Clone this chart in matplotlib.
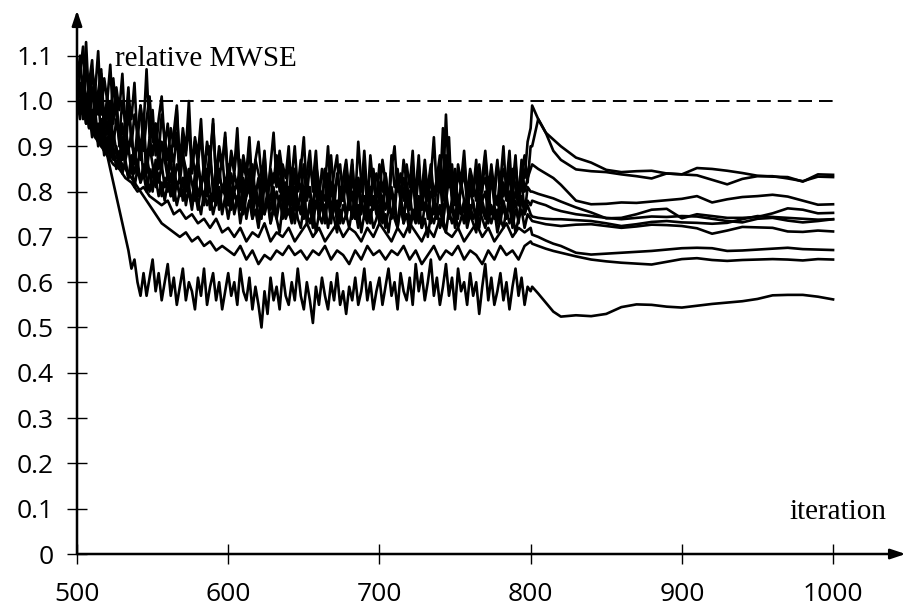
import numpy as np
import matplotlib.pyplot as plt

# iterations: noisy part every 2 (every 4 for the two calmer runs), smooth part after 800
iters_fine = np.arange(500, 801, 2)
iters_coarse = np.arange(500, 801, 4)
iters_smooth = [801, 805, 810, 815, 820, 830, 840, 850, 860, 870, 880, 890,
                900, 910, 920, 930, 940, 950, 960, 970, 980, 990, 1000]

# relative MWSE per run
run1_noisy = [1.04, 1.10, 1.01, 1.13, 0.99, 1.07, 1.02, 1.11, 0.97, 1.05,
              1.00, 1.08, 0.95, 1.03, 0.98, 1.06, 0.93, 1.01, 0.96, 1.04,
              0.91, 0.99, 0.94, 1.07, 0.92, 0.98, 0.88, 0.96, 1.01, 0.90,
              0.95, 0.87, 0.93, 0.99, 0.86, 0.94, 0.89, 1.00, 0.85, 0.92,
              0.88, 0.96, 0.84, 0.91, 0.87, 0.95, 0.83, 0.90, 0.86, 0.93,
              0.82, 0.89, 0.85, 0.94, 0.81, 0.88, 0.84, 0.92, 0.80, 0.87,
              0.91, 0.83, 0.88, 0.79, 0.86, 0.93, 0.82, 0.89, 0.84, 0.78,
              0.87, 0.83, 0.90, 0.80, 0.85, 0.92, 0.79, 0.86, 0.82, 0.89,
              0.78, 0.85, 0.81, 0.90, 0.79, 0.84, 0.88, 0.77, 0.83, 0.87,
              0.80, 0.86, 0.78, 0.91, 0.82, 0.85, 0.77, 0.88, 0.81, 0.84,
              0.79, 0.87, 0.82, 0.76, 0.85, 0.90, 0.80, 0.84, 0.78, 0.86,
              0.81, 0.89, 0.77, 0.84, 0.80, 0.87, 0.79, 0.83, 0.92, 0.80,
              0.85, 0.78, 0.88, 0.81, 0.84, 0.77, 0.86, 0.82, 0.89, 0.79,
              0.84, 0.80, 0.87, 0.76, 0.83, 0.89, 0.81, 0.85, 0.78, 0.86,
              0.82, 0.90, 0.79, 0.84, 0.81, 0.88, 0.77, 0.86, 0.83, 0.91,
              0.94]
run1_smooth = [0.99, 0.96, 0.93, 0.915, 0.90, 0.875, 0.864, 0.848, 0.843, 0.845, 0.846, 0.84,
               0.838, 0.852, 0.85, 0.846, 0.841, 0.835, 0.833, 0.832, 0.822, 0.838, 0.837]

run2_noisy = [1.00, 1.06, 1.12, 0.98, 1.04, 1.09, 0.96, 1.02, 1.07, 0.95,
              1.01, 0.94, 1.05, 0.97, 0.92, 1.00, 0.95, 1.03, 0.90, 0.97,
              0.93, 0.99, 0.89, 0.96, 1.01, 0.91, 0.95, 0.88, 0.97, 0.92,
              0.87, 0.94, 0.90, 0.98, 0.85, 0.92, 0.88, 0.95, 0.84, 0.91,
              0.86, 0.93, 0.83, 0.90, 0.87, 0.96, 0.82, 0.89, 0.85, 0.92,
              0.81, 0.88, 0.84, 0.91, 0.80, 0.86, 0.83, 0.90, 0.79, 0.87,
              0.84, 0.81, 0.89, 0.78, 0.85, 0.82, 0.88, 0.80, 0.86, 0.83,
              0.90, 0.79, 0.85, 0.81, 0.87, 0.78, 0.84, 0.89, 0.80, 0.86,
              0.82, 0.77, 0.85, 0.80, 0.88, 0.79, 0.83, 0.86, 0.78, 0.84,
              0.81, 0.87, 0.77, 0.83, 0.80, 0.89, 0.79, 0.85, 0.82, 0.78,
              0.86, 0.80, 0.84, 0.77, 0.88, 0.81, 0.83, 0.79, 0.87, 0.82,
              0.78, 0.85, 0.80, 0.88, 0.76, 0.84, 0.81, 0.86, 0.79, 0.83,
              0.88, 0.80, 0.97, 0.82, 0.86, 0.78, 0.84, 0.81, 0.87, 0.79,
              0.85, 0.82, 0.78, 0.86, 0.80, 0.88, 0.77, 0.84, 0.81, 0.87,
              0.79, 0.85, 0.82, 0.89, 0.78, 0.86, 0.80, 0.84, 0.88, 0.82,
              0.90]
run2_smooth = [0.90, 0.96, 0.93, 0.89, 0.87, 0.849, 0.845, 0.843, 0.838, 0.834, 0.829, 0.84,
               0.838, 0.836, 0.826, 0.816, 0.828, 0.834, 0.834, 0.829, 0.823, 0.833, 0.832]

run3_noisy = [0.98, 1.04, 0.96, 1.09, 1.00, 0.94, 1.03, 0.97, 1.06, 0.93,
              0.99, 0.91, 0.97, 1.02, 0.90, 0.95, 0.88, 0.98, 0.92, 0.87,
              0.94, 0.89, 0.96, 0.86, 0.92, 0.88, 0.95, 0.85, 0.91, 0.87,
              0.83, 0.90, 0.86, 0.93, 0.82, 0.88, 0.85, 0.80, 0.89, 0.84,
              0.87, 0.81, 0.86, 0.83, 0.90, 0.79, 0.85, 0.82, 0.88, 0.80,
              0.86, 0.78, 0.84, 0.81, 0.87, 0.77, 0.83, 0.80, 0.86, 0.79,
              0.83, 0.76, 0.85, 0.80, 0.78, 0.84, 0.81, 0.87, 0.77, 0.82,
              0.79, 0.85, 0.76, 0.83, 0.80, 0.86, 0.78, 0.81, 0.75, 0.84,
              0.80, 0.77, 0.85, 0.79, 0.82, 0.76, 0.84, 0.80, 0.78, 0.86,
              0.77, 0.83, 0.79, 0.81, 0.75, 0.84, 0.80, 0.78, 0.85, 0.79,
              0.82, 0.76, 0.84, 0.79, 0.81, 0.77, 0.85, 0.78, 0.83, 0.80,
              0.76, 0.82, 0.79, 0.86, 0.77, 0.81, 0.78, 0.84, 0.75, 0.82,
              0.80, 0.94, 0.78, 0.83, 0.79, 0.85, 0.77, 0.81, 0.84, 0.78,
              0.82, 0.79, 0.85, 0.76, 0.81, 0.83, 0.78, 0.86, 0.80, 0.77,
              0.84, 0.79, 0.82, 0.76, 0.85, 0.81, 0.78, 0.87, 0.80, 0.83,
              0.85]
run3_smooth = [0.86, 0.85, 0.84, 0.83, 0.815, 0.78, 0.772, 0.773, 0.776, 0.775, 0.778, 0.781,
               0.784, 0.79, 0.776, 0.783, 0.788, 0.79, 0.793, 0.789, 0.78, 0.771, 0.772]

run4_noisy = [1.01, 0.96, 1.05, 0.99, 0.94, 1.03, 0.97, 1.01, 0.92, 0.98,
              0.93, 1.00, 0.90, 0.96, 0.91, 0.87, 0.95, 0.89, 0.93, 0.86,
              0.91, 0.87, 0.93, 0.84, 0.90, 0.86, 0.82, 0.89, 0.85, 0.91,
              0.83, 0.87, 0.81, 0.86, 0.84, 0.90, 0.80, 0.85, 0.82, 0.78,
              0.86, 0.81, 0.84, 0.79, 0.87, 0.82, 0.78, 0.85, 0.80, 0.83,
              0.77, 0.84, 0.80, 0.82, 0.76, 0.83, 0.79, 0.85, 0.77, 0.81,
              0.78, 0.74, 0.82, 0.79, 0.84, 0.76, 0.80, 0.77, 0.83, 0.75,
              0.81, 0.78, 0.85, 0.76, 0.80, 0.74, 0.82, 0.79, 0.77, 0.83,
              0.75, 0.80, 0.78, 0.84, 0.76, 0.79, 0.73, 0.81, 0.78, 0.82,
              0.76, 0.80, 0.74, 0.83, 0.78, 0.75, 0.81, 0.77, 0.84, 0.76,
              0.79, 0.74, 0.82, 0.77, 0.80, 0.75, 0.83, 0.78, 0.73, 0.81,
              0.77, 0.84, 0.75, 0.79, 0.76, 0.82, 0.74, 0.80, 0.78, 0.76,
              0.83, 0.75, 0.79, 0.92, 0.77, 0.80, 0.74, 0.82, 0.78, 0.75,
              0.81, 0.77, 0.74, 0.83, 0.78, 0.80, 0.75, 0.84, 0.77, 0.79,
              0.74, 0.82, 0.78, 0.85, 0.76, 0.80, 0.77, 0.83, 0.75, 0.81,
              0.80]
run4_smooth = [0.80, 0.795, 0.79, 0.785, 0.778, 0.765, 0.754, 0.741, 0.742, 0.75, 0.76, 0.762,
               0.741, 0.75, 0.746, 0.742, 0.742, 0.744, 0.752, 0.763, 0.76, 0.752, 0.753]

run5_noisy = [1.03, 0.98, 1.02, 0.95, 1.00, 0.94, 0.98, 0.91, 0.96, 0.90,
              0.95, 0.88, 0.93, 0.89, 0.86, 0.92, 0.87, 0.90, 0.84, 0.89,
              0.85, 0.91, 0.83, 0.88, 0.84, 0.80, 0.87, 0.82, 0.86, 0.81,
              0.84, 0.79, 0.86, 0.81, 0.83, 0.78, 0.85, 0.80, 0.77, 0.84,
              0.79, 0.82, 0.77, 0.85, 0.80, 0.78, 0.83, 0.76, 0.81, 0.79,
              0.82, 0.76, 0.80, 0.77, 0.83, 0.75, 0.79, 0.81, 0.74, 0.80,
              0.77, 0.82, 0.75, 0.79, 0.76, 0.81, 0.74, 0.78, 0.80, 0.75,
              0.79, 0.74, 0.81, 0.77, 0.75, 0.80, 0.73, 0.78, 0.76, 0.82,
              0.74, 0.78, 0.76, 0.80, 0.73, 0.79, 0.75, 0.77, 0.81, 0.74,
              0.78, 0.75, 0.80, 0.73, 0.77, 0.79, 0.74, 0.81, 0.76, 0.78,
              0.73, 0.79, 0.76, 0.80, 0.74, 0.77, 0.72, 0.79, 0.75, 0.78,
              0.80, 0.74, 0.77, 0.73, 0.79, 0.76, 0.81, 0.74, 0.78, 0.75,
              0.77, 0.73, 0.80, 0.75, 0.78, 0.74, 0.79, 0.76, 0.73, 0.80,
              0.75, 0.78, 0.73, 0.79, 0.76, 0.74, 0.80, 0.75, 0.77, 0.73,
              0.79, 0.76, 0.74, 0.80, 0.75, 0.78, 0.73, 0.79, 0.76, 0.78,
              0.77]
run5_smooth = [0.78, 0.775, 0.77, 0.762, 0.757, 0.75, 0.746, 0.742, 0.739, 0.742, 0.745, 0.744,
               0.746, 0.745, 0.74, 0.735, 0.732, 0.74, 0.742, 0.736, 0.732, 0.735, 0.739]

run6_noisy = [0.99, 1.03, 0.97, 1.00, 0.94, 0.98, 0.92, 0.95, 0.90, 0.93,
              0.88, 0.92, 0.87, 0.90, 0.85, 0.89, 0.86, 0.83, 0.88, 0.84,
              0.87, 0.82, 0.86, 0.83, 0.80, 0.85, 0.81, 0.84, 0.79, 0.83,
              0.80, 0.84, 0.78, 0.82, 0.79, 0.83, 0.77, 0.81, 0.78, 0.80,
              0.76, 0.81, 0.78, 0.82, 0.76, 0.79, 0.77, 0.80, 0.75, 0.79,
              0.77, 0.80, 0.75, 0.78, 0.76, 0.81, 0.74, 0.78, 0.76, 0.79,
              0.74, 0.78, 0.76, 0.80, 0.73, 0.77, 0.75, 0.79, 0.74, 0.77,
              0.75, 0.79, 0.73, 0.77, 0.76, 0.80, 0.74, 0.77, 0.72, 0.78,
              0.75, 0.77, 0.73, 0.79, 0.74, 0.76, 0.78, 0.73, 0.77, 0.75,
              0.79, 0.74, 0.76, 0.72, 0.78, 0.75, 0.77, 0.73, 0.79, 0.75,
              0.74, 0.77, 0.72, 0.76, 0.75, 0.78, 0.73, 0.76, 0.74, 0.79,
              0.73, 0.76, 0.74, 0.78, 0.72, 0.77, 0.75, 0.73, 0.78, 0.74,
              0.76, 0.73, 0.79, 0.74, 0.77, 0.72, 0.76, 0.75, 0.78, 0.73,
              0.77, 0.74, 0.76, 0.72, 0.78, 0.75, 0.73, 0.77, 0.74, 0.76,
              0.73, 0.78, 0.75, 0.77, 0.72, 0.76, 0.74, 0.79, 0.75, 0.77,
              0.75]
run6_smooth = [0.745, 0.742, 0.74, 0.739, 0.739, 0.737, 0.735, 0.73, 0.724, 0.728, 0.733, 0.735,
               0.732, 0.731, 0.729, 0.731, 0.739, 0.746, 0.744, 0.742, 0.74, 0.738, 0.739]

run7_noisy = [1.02, 0.97, 1.00, 0.95, 0.98, 0.92, 0.96, 0.90, 0.94, 0.88,
              0.92, 0.87, 0.90, 0.85, 0.89, 0.84, 0.87, 0.83, 0.86, 0.81,
              0.85, 0.82, 0.84, 0.80, 0.85, 0.81, 0.83, 0.79, 0.82, 0.78,
              0.82, 0.79, 0.81, 0.77, 0.80, 0.83, 0.78, 0.80, 0.76, 0.81,
              0.78, 0.75, 0.80, 0.77, 0.79, 0.75, 0.78, 0.81, 0.76, 0.78,
              0.74, 0.78, 0.76, 0.79, 0.73, 0.77, 0.75, 0.78, 0.74, 0.76,
              0.72, 0.77, 0.75, 0.78, 0.73, 0.76, 0.74, 0.71, 0.77, 0.74,
              0.76, 0.73, 0.78, 0.74, 0.72, 0.77, 0.75, 0.73, 0.76, 0.71,
              0.75, 0.73, 0.77, 0.72, 0.76, 0.74, 0.71, 0.76, 0.73, 0.75,
              0.72, 0.76, 0.74, 0.77, 0.71, 0.75, 0.73, 0.76, 0.72, 0.74,
              0.77, 0.73, 0.75, 0.71, 0.76, 0.74, 0.72, 0.77, 0.73, 0.75,
              0.71, 0.75, 0.73, 0.76, 0.72, 0.74, 0.70, 0.75, 0.73, 0.76,
              0.72, 0.74, 0.71, 0.76, 0.73, 0.75, 0.72, 0.74, 0.77, 0.72,
              0.75, 0.73, 0.71, 0.76, 0.74, 0.72, 0.75, 0.73, 0.76, 0.71,
              0.74, 0.72, 0.76, 0.73, 0.75, 0.71, 0.74, 0.76, 0.72, 0.75,
              0.74]
run7_smooth = [0.735, 0.732, 0.728, 0.726, 0.724, 0.727, 0.728, 0.724, 0.72, 0.723, 0.727, 0.726,
               0.724, 0.719, 0.707, 0.714, 0.722, 0.721, 0.72, 0.712, 0.711, 0.714, 0.712]

run8_noisy = [1.00, 0.97, 0.95, 0.92, 0.90, 0.88, 0.86, 0.85, 0.83, 0.82, 0.80, 0.81, 0.79,
              0.78, 0.77, 0.78, 0.75, 0.76, 0.74, 0.75, 0.73, 0.74, 0.72, 0.74, 0.71, 0.72,
              0.70, 0.72, 0.69, 0.71, 0.70, 0.73, 0.69, 0.71, 0.70, 0.72, 0.69, 0.71,
              0.73, 0.70, 0.72, 0.69, 0.71, 0.73, 0.70, 0.72, 0.71, 0.69, 0.72, 0.70, 0.73,
              0.71, 0.69, 0.72, 0.70, 0.73, 0.71, 0.69, 0.72, 0.70, 0.74, 0.71, 0.70,
              0.72, 0.69, 0.71, 0.73, 0.70, 0.72, 0.69, 0.71, 0.73, 0.70, 0.72, 0.71, 0.72]
run8_smooth = [0.705, 0.70, 0.692, 0.685, 0.68, 0.665, 0.661, 0.663, 0.665, 0.667, 0.669, 0.672,
               0.675, 0.676, 0.675, 0.669, 0.67, 0.672, 0.674, 0.676, 0.673, 0.672, 0.671]

run9_noisy = [1.00, 0.98, 0.96, 0.94, 0.92, 0.90, 0.88, 0.87, 0.85, 0.83, 0.81, 0.79, 0.77,
              0.75, 0.73, 0.72, 0.71, 0.70, 0.71, 0.69, 0.70, 0.68, 0.69, 0.67, 0.68, 0.67,
              0.66, 0.68, 0.65, 0.67, 0.64, 0.66, 0.65, 0.67, 0.66, 0.68, 0.66, 0.67,
              0.65, 0.67, 0.66, 0.68, 0.65, 0.67, 0.66, 0.64, 0.67, 0.65, 0.68, 0.66, 0.67,
              0.65, 0.67, 0.66, 0.68, 0.65, 0.67, 0.64, 0.66, 0.68, 0.65, 0.67, 0.66,
              0.68, 0.65, 0.67, 0.66, 0.64, 0.67, 0.65, 0.68, 0.66, 0.67, 0.65, 0.68, 0.69]
run9_smooth = [0.685, 0.68, 0.674, 0.669, 0.665, 0.657, 0.65, 0.646, 0.643, 0.641, 0.639, 0.645,
               0.651, 0.653, 0.649, 0.647, 0.649, 0.65, 0.651, 0.65, 0.648, 0.651, 0.65]

run10_noisy = [1.00, 0.99, 0.98, 0.97, 0.96, 0.95, 0.94, 0.92, 0.91, 0.89,
               0.88, 0.85, 0.82, 0.79, 0.76, 0.73, 0.70, 0.67, 0.63, 0.65,
               0.60, 0.57, 0.62, 0.57, 0.61, 0.65, 0.58, 0.62, 0.56, 0.60,
               0.64, 0.57, 0.61, 0.55, 0.59, 0.63, 0.56, 0.60, 0.58, 0.54,
               0.61, 0.57, 0.63, 0.55, 0.59, 0.62, 0.56, 0.60, 0.54, 0.58,
               0.62, 0.57, 0.60, 0.55, 0.63, 0.58, 0.56, 0.61, 0.54, 0.59,
               0.55, 0.50, 0.58, 0.53, 0.61, 0.56, 0.59, 0.54, 0.62, 0.57,
               0.55, 0.60, 0.56, 0.63, 0.57, 0.54, 0.60, 0.56, 0.51, 0.59,
               0.55, 0.61, 0.57, 0.54, 0.60, 0.56, 0.62, 0.55, 0.58, 0.53,
               0.59, 0.56, 0.61, 0.55, 0.58, 0.63, 0.56, 0.60, 0.54, 0.58,
               0.61, 0.55, 0.59, 0.63, 0.57, 0.60, 0.54, 0.62, 0.58, 0.56,
               0.61, 0.55, 0.64, 0.58, 0.62, 0.56, 0.60, 0.65, 0.57, 0.61,
               0.55, 0.59, 0.64, 0.57, 0.61, 0.54, 0.63, 0.58, 0.60, 0.55,
               0.62, 0.57, 0.60, 0.53, 0.59, 0.64, 0.56, 0.61, 0.55, 0.58,
               0.62, 0.56, 0.60, 0.54, 0.59, 0.63, 0.57, 0.61, 0.55, 0.59,
               0.58]
run10_smooth = [0.59, 0.575, 0.555, 0.535, 0.524, 0.527, 0.525, 0.53, 0.545, 0.551, 0.55, 0.546,
                0.544, 0.548, 0.552, 0.555, 0.558, 0.563, 0.571, 0.572, 0.572, 0.568, 0.562]

runs = [(iters_fine, run1_noisy, run1_smooth), (iters_fine, run2_noisy, run2_smooth),
        (iters_fine, run3_noisy, run3_smooth), (iters_fine, run4_noisy, run4_smooth),
        (iters_fine, run5_noisy, run5_smooth), (iters_fine, run6_noisy, run6_smooth),
        (iters_fine, run7_noisy, run7_smooth), (iters_coarse, run8_noisy, run8_smooth),
        (iters_coarse, run9_noisy, run9_smooth), (iters_fine, run10_noisy, run10_smooth)]

x_ticks = [500, 600, 700, 800, 900, 1000]
y_ticks = [0, 0.1, 0.2, 0.3, 0.4, 0.5, 0.6, 0.7, 0.8, 0.9, 1.0, 1.1]
y_labels = ["0", "0.1", "0.2", "0.3", "0.4", "0.5", "0.6", "0.7", "0.8", "0.9", "1.0", "1.1"]

fig = plt.figure(figsize=(9.07, 6.07), dpi=100)
ax = fig.add_axes([0.0849, 0.0873, 0.9136, 0.8956])
ax.set_xlim(500, 1048)
ax.set_ylim(0, 1.2)

# reference level
ax.plot([500, 1000], [1.0, 1.0], color="black", lw=1.4, linestyle=(0, (7, 3.6)), zorder=1)

for grid, noisy, smooth in runs:
    xs = np.concatenate([grid, iters_smooth])
    ys = np.concatenate([noisy, smooth])
    ax.plot(xs, ys, color="black", lw=1.9, zorder=2)

# axes drawn as arrows
for s in ax.spines.values():
    s.set_visible(False)
arrow = dict(arrowstyle="-|>,head_length=0.9,head_width=0.3", color="black", lw=1.8,
             shrinkA=0, shrinkB=0)
ax.annotate("", xy=(1048, 0), xytext=(500, 0), arrowprops=arrow, annotation_clip=False)
ax.annotate("", xy=(500, 1.2), xytext=(500, 0), arrowprops=arrow, annotation_clip=False)

ax.set_xticks(x_ticks)
ax.set_yticks(y_ticks)
ax.set_yticklabels(y_labels)
ax.tick_params(direction="inout", length=15, width=1, labelsize=19)
ax.tick_params(axis="x", pad=13)
ax.tick_params(axis="y", pad=9)
for lab in ax.get_xticklabels() + ax.get_yticklabels():
    lab.set_family("Open Sans")

ax.text(525, 1.077, "relative MWSE", family="Liberation Serif", fontsize=21, va="baseline")
ax.text(1035, 0.077, "iteration", family="Liberation Serif", fontsize=21, ha="right", va="baseline")

fig.savefig("out.png", dpi=100)
